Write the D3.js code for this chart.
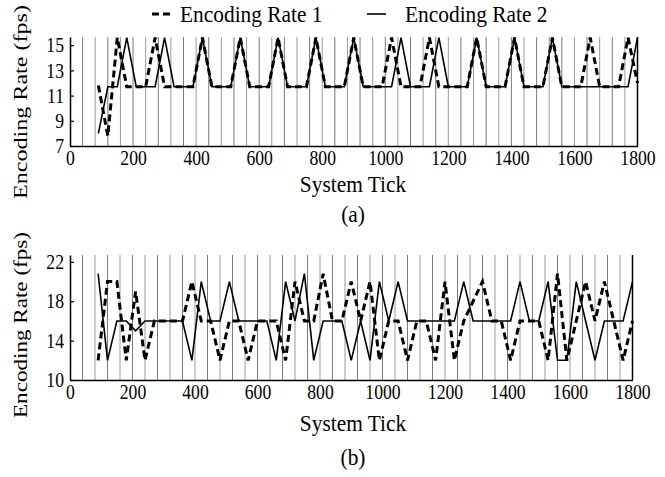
<!DOCTYPE html>
<html>
<head>
<meta charset="utf-8">
<script src="https://cdn.jsdelivr.net/npm/d3@7"></script>
<style>
  body { margin: 0; background: #fff; }
  text { font-family: "Liberation Serif", "Times New Roman", serif; fill: #000; }
</style>
</head>
<body>
<div id="chart"></div>
<script>
// sample ticks: 90, 120, ..., 1800 (8 values per row below)
const ticks = d3.range(90, 1801, 30);

// (a)
const rateA1 = [
  11.8, 7.8, 15.6, 11.7, 11.7, 11.7, 15.6, 11.7,   // 90-300
  11.7, 11.7, 11.7, 15.6, 11.7, 11.7, 11.7, 15.6,  // 330-540
  11.7, 11.7, 11.7, 15.6, 11.7, 11.7, 11.7, 15.6,  // 570-780
  11.7, 11.7, 11.7, 15.6, 11.7, 11.7, 11.7, 15.6,  // 810-1020
  11.7, 11.7, 11.7, 15.6, 11.7, 11.7, 11.7, 11.7,  // 1050-1260
  15.6, 11.7, 11.7, 11.7, 15.6, 11.7, 11.7, 11.7,  // 1290-1500
  15.6, 11.7, 11.7, 11.7, 15.6, 11.7, 11.7, 11.7,  // 1530-1740
  15.6, 12];                                       // 1770-1800
const rateA2 = [
  8, 11.7, 11.7, 15.6, 11.7, 11.7, 11.7, 15.6,
  11.7, 11.7, 11.7, 15.6, 11.7, 11.7, 11.7, 15.6,
  11.7, 11.7, 11.7, 15.6, 11.7, 11.7, 11.7, 15.6,
  11.7, 11.7, 11.7, 15.6, 11.7, 11.7, 11.7, 11.7,
  15.6, 11.7, 11.7, 11.7, 15.6, 11.7, 11.7, 11.7,
  15.6, 11.7, 11.7, 11.7, 15.6, 11.7, 11.7, 11.7,
  15.6, 11.7, 11.7, 11.7, 11.7, 11.7, 11.7, 11.7,
  11.7, 15.6];

// (b)
const rateB1 = [
  12, 20, 20, 12, 19, 12, 16, 16,
  16, 16, 20, 16, 16, 12, 16, 16,
  12, 16, 16, 16, 12, 20, 16, 16,
  20.8, 16, 16, 20, 16, 20, 12, 16,
  16, 12, 16, 16, 12, 20, 12, 16,
  18, 20, 16, 16, 12, 16, 16, 16,
  12, 20.8, 12, 16, 20, 16, 20, 16,
  12, 16];
const rateB2 = [
  20.8, 12, 16, 16, 15, 16, 16, 16,
  16, 16, 12, 20, 16, 16, 20, 16,
  16, 16, 16, 12, 20, 16, 20.8, 12,
  16, 16, 16, 12, 16, 12, 20, 16,
  20, 16, 16, 16, 16, 16, 16, 20,
  16, 16, 16, 16, 16, 20, 16, 16,
  20, 12, 12, 20, 16, 12, 16, 16,
  16, 20];

const xTicks = d3.range(0, 1801, 200);
const gridTicks = d3.range(40, 1800, 40);
const yTicksA = [7, 9, 11, 13, 15];
const yTicksB = [10, 14, 18, 22];

const W = 665, H = 477;
const svg = d3.select("#chart").append("svg").attr("width", W).attr("height", H);

// the reference font looks narrow: squeeze glyphs horizontally
function squeeze(sel, k) {
  sel.each(function () {
    const w = this.getComputedTextLength();
    d3.select(this).attr("textLength", w * k).attr("lengthAdjust", "spacingAndGlyphs");
  });
}

function panel(cfg) {
  const x = d3.scaleLinear().domain([0, 1800]).range([70, cfg.right]);
  const y = d3.scaleLinear().domain(cfg.ydom).range([cfg.bottom, cfg.top]);
  const g = svg.append("g");

  // vertical grid every 40 ticks
  g.append("g").selectAll("line").data(gridTicks).enter().append("line")
    .attr("x1", d => x(d)).attr("x2", d => x(d))
    .attr("y1", cfg.bottom).attr("y2", cfg.top)
    .attr("stroke", (d, i) => i % 2 ? "#9a9a9a" : "#7a7a7a").attr("stroke-width", 1);
  g.append("line").attr("x1", x(1800)).attr("x2", x(1800))
    .attr("y1", cfg.bottom).attr("y2", cfg.top).attr("stroke", "#000").attr("stroke-width", 1.5);

  const line = d3.line().x((d, i) => x(ticks[i])).y(d => y(d));
  g.append("path").datum(cfg.s2).attr("d", line)
    .attr("fill", "none").attr("stroke", "#000").attr("stroke-width", 1.6);
  g.append("path").datum(cfg.s1).attr("d", line)
    .attr("fill", "none").attr("stroke", "#000").attr("stroke-width", 3)
    .attr("stroke-dasharray", "7,4");

  // axes
  const xa = g.append("g").attr("transform", `translate(0,${cfg.bottom})`)
    .call(d3.axisBottom(x).tickValues(xTicks).tickSize(0).tickPadding(4).tickFormat(d3.format("d")));
  xa.select(".domain").attr("stroke-width", 1.5);
  xa.selectAll("text").style("font-size", "21px").attr("font-family", null).call(squeeze, 0.84);

  const ya = g.append("g").attr("transform", "translate(70,0)")
    .call(d3.axisLeft(y).tickValues(cfg.yticks).tickSizeInner(-4).tickSizeOuter(0).tickPadding(6));
  ya.select(".domain").attr("stroke-width", 1.5);
  ya.selectAll("line").attr("stroke-width", 1.2);
  ya.selectAll("text").style("font-size", "21px").attr("font-family", null).call(squeeze, 0.84);

  g.append("text").attr("x", 353).attr("y", cfg.titleY).attr("text-anchor", "middle")
    .style("font-size", "23px").text("System Tick").call(squeeze, 0.93);
  g.append("text").attr("x", 353).attr("y", cfg.capY).attr("text-anchor", "middle")
    .style("font-size", "23px").text(cfg.cap).call(squeeze, 0.93);
  g.append("text").attr("transform", `translate(27,${cfg.labY}) rotate(-90)`)
    .attr("text-anchor", "middle").style("font-size", "19px")
    .attr("textLength", cfg.labLen).attr("lengthAdjust", "spacingAndGlyphs")
    .text("Encoding Rate (fps)");
}

panel({ right: 637.5, top: 37, bottom: 146, ydom: [7, 15.65], s1: rateA1, s2: rateA2, yticks: yTicksA,
  cap: "(a)", titleY: 192, capY: 222, labY: 102, labLen: 194 });
panel({ right: 632.5, top: 255, bottom: 380, ydom: [10, 22.7], s1: rateB1, s2: rateB2, yticks: yTicksB,
  cap: "(b)", titleY: 431, capY: 465, labY: 325, labLen: 186 });

// legend
const leg = svg.append("g");
leg.append("line").attr("x1", 152).attr("x2", 174).attr("y1", 14).attr("y2", 14)
  .attr("stroke", "#000").attr("stroke-width", 3).attr("stroke-dasharray", "7,4");
leg.append("text").attr("x", 180).attr("y", 22).style("font-size", "23px").text("Encoding Rate 1").call(squeeze, 0.93);
leg.append("line").attr("x1", 367).attr("x2", 386).attr("y1", 14).attr("y2", 14)
  .attr("stroke", "#000").attr("stroke-width", 1.6);
leg.append("text").attr("x", 405).attr("y", 22).style("font-size", "23px").text("Encoding Rate 2").call(squeeze, 0.93);
</script>
</body>
</html>
